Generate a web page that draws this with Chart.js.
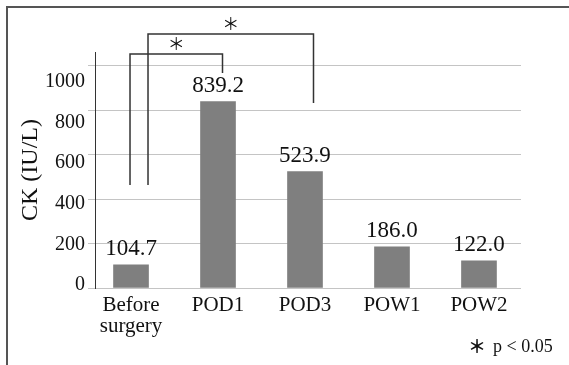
<!DOCTYPE html>
<html lang="en">
<head>
<meta charset="UTF-8">
<title>CK (IU/L)</title>
<script src="https://cdn.jsdelivr.net/npm/chart.js"></script>
<style>
  html, body { margin: 0; padding: 0; background: #fff; }
  #wrap { position: relative; width: 569px; height: 365px; overflow: hidden; }
  #frame { position: absolute; left: 6px; top: 6px; width: 600px; height: 400px;
           border-top: 2px solid #555; border-left: 2px solid #555; }
  canvas { position: absolute; left: 0; top: 0; }
</style>
</head>
<body>
<div id="wrap">
  <div id="frame"></div>
  <canvas id="chart" width="569" height="365"></canvas>
</div>
<script>
const categories = [['Before', 'surgery'], 'POD1', 'POD3', 'POW1', 'POW2'];
const ckValues = [104.7, 839.2, 523.9, 186.0, 122.0];
const yTicks = [0, 200, 400, 600, 800, 1000];
// significant pairs (category indexes), outer bracket last
const sigPairs = [[0, 1], [0, 2]];

const serif = '"Liberation Serif", "Times New Roman", serif';

// brackets, p-value note and bar labels
const annotate = {
  id: 'annotate',
  afterDatasetsDraw(chart) {
    const ctx = chart.ctx;
    const bars = chart.getDatasetMeta(0).data;
    const top = chart.chartArea.top;
    ctx.save();

    ctx.fillStyle = '#111';
    ctx.font = '23px ' + serif;
    ctx.textAlign = 'center';
    ctx.textBaseline = 'alphabetic';
    bars.forEach((bar, i) => {
      ctx.fillText(ckValues[i].toFixed(1), bar.x, bar.y - 10);
    });

    // bracket look: [left offset, right offset, top, right foot]
    const look = [[-1, 4.5, top + 2, 73], [17, 8.5, top - 18, 103]];
    ctx.strokeStyle = '#333';
    ctx.lineWidth = 1.5;
    ctx.font = '17px "Noto Sans CJK JP"';
    ctx.textBaseline = 'middle';
    sigPairs.forEach(([a, b], k) => {
      const [dl, dr, yTop, yRight] = look[k];
      const xl = bars[a].x + dl, xr = bars[b].x + dr;
      ctx.beginPath();
      ctx.moveTo(xl, 185);
      ctx.lineTo(xl, yTop);
      ctx.lineTo(xr, yTop);
      ctx.lineTo(xr, yRight);
      ctx.stroke();
      ctx.fillText('＊', (xl + xr) / 2, yTop - 10);
    });

    ctx.font = 'bold 18px "Noto Sans CJK JP"';
    ctx.fillText('＊', 477, 346);
    ctx.textAlign = 'left';
    ctx.textBaseline = 'alphabetic';
    ctx.font = '18px ' + serif;
    ctx.fillText('p < 0.05', 493, 352);
    ctx.restore();
  }
};

new Chart(document.getElementById('chart'), {
  type: 'bar',
  data: {
    datasets: [{
      data: ckValues.map((v, i) => ({ x: i, y: v })),
      backgroundColor: '#7f7f7f',
      barThickness: 35
    }]
  },
  options: {
    responsive: false,
    animation: false,
    layout: { padding: { left: 10, right: 48, top: 52, bottom: 27 } },
    plugins: { legend: { display: false }, tooltip: { enabled: false } },
    scales: {
      x: {
        type: 'linear',
        offset: false,
        min: -0.414,
        max: 4.483,
        grid: { display: false, drawTicks: false },
        border: { display: false },
        afterBuildTicks: s => { s.ticks = categories.map((c, i) => ({ value: i })); },
        afterFit: s => { s.height = 50; },
        ticks: {
          autoSkip: false,
          maxRotation: 0,
          padding: 7,
          color: '#111',
          font: { family: serif, size: 21, lineHeight: 1.0 },
          callback: v => categories[v]
        }
      },
      y: {
        min: 0,
        max: 1063,
        weight: 0,
        grid: { color: '#c4c4c4', lineWidth: 1, tickLength: 7 },
        border: { display: true, color: '#333', width: 1 },
        afterBuildTicks: s => { s.ticks = yTicks.map(v => ({ value: v })); },
        afterFit: s => { s.width = 9; },
        ticks: { display: false }
      },
      yl: {
        position: 'left',
        min: -14.8,
        max: 1148,
        weight: 1,
        grid: { display: false, drawTicks: false },
        border: { display: false },
        afterBuildTicks: s => { s.ticks = yTicks.map(v => ({ value: v })); },
        afterFit: s => { s.width = 76; },
        title: {
          display: true,
          text: 'CK (IU/L)',
          color: '#111',
          font: { family: serif, size: 24 },
          padding: { top: 6, bottom: 0 }
        },
        ticks: {
          padding: 1,
          color: '#111',
          font: { family: serif, size: 20 },
          callback: v => String(v)
        }
      }
    }
  },
  plugins: [annotate]
});
</script>
</body>
</html>
